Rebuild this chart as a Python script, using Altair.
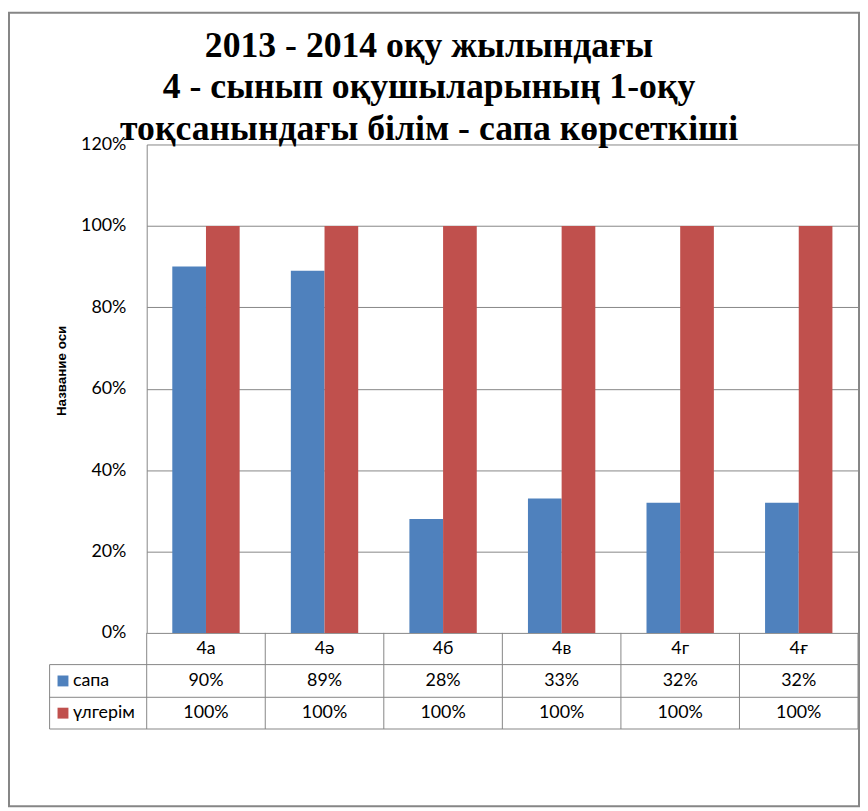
import altair as alt
import pandas as pd

# ---- data ----
classes = ["4а", "4ә", "4б", "4в", "4г", "4ғ"]
series_names = ["сапа", "үлгерім"]
sapa = [0.90, 0.89, 0.28, 0.33, 0.32, 0.32]
ulgerim = [1.00, 1.00, 1.00, 1.00, 1.00, 1.00]
y_ticks = [0, 0.2, 0.4, 0.6, 0.8, 1.0, 1.2]
title_lines = [
    "2013 - 2014 оқу жылындағы",
    "4 - сынып оқушыларының 1-оқу",
    "тоқсанындағы білім - сапа көрсеткіші",
]
axis_title = "Название оси"
colors = ["#4F81BD", "#C0504D"]

rows = []
for s, vals in zip(series_names, [sapa, ulgerim]):
    for c, v in zip(classes, vals):
        rows.append({"cls": c, "series": s, "value": v})
df = pd.DataFrame(rows)
cls_df = pd.DataFrame({"cls": classes})
one_df = pd.DataFrame({"k": [0]})

# ---- layout ----
W, H = 718, 493
PAD = {"left": 140, "top": 134, "right": 2, "bottom": 176}
GRAY = "#868686"
TXT_FONT = "Lato"
TXT_SIZE = 18
header_y = 509
row_y = [541.5, 574]
row_lines = [525, 558, 590]
table_left = -98
title_x = 285
title_y = [-88.7, -47, -4.5]

x_scale = alt.Scale(domain=classes, paddingInner=0, paddingOuter=0)
x_enc = alt.X("cls:N", sort=classes, scale=x_scale, axis=None)
color_scale = alt.Scale(domain=series_names, range=colors)

bars = alt.Chart(df).mark_bar().encode(
    x=x_enc,
    xOffset=alt.XOffset("series:N", sort=series_names,
                        scale=alt.Scale(domain=series_names, paddingInner=0, paddingOuter=0.76)),
    y=alt.Y("value:Q",
            scale=alt.Scale(domain=[0, 1.2], nice=False, zero=True),
            axis=alt.Axis(values=y_ticks, format=".0%", grid=True, gridColor=GRAY, gridWidth=1,
                          domain=True, domainColor=GRAY, ticks=False,
                          labelFont=TXT_FONT, labelFontSize=TXT_SIZE, labelColor="black",
                          labelPadding=21,
                          title=axis_title, titleFont="Liberation Sans", titleFontSize=13.5,
                          titleFontWeight="bold", titleColor="black", titleAngle=270,
                          titleX=-86, titleY=228, titleAlign="center", titleBaseline="middle")),
    color=alt.Color("series:N", scale=color_scale, legend=None),
)

header = alt.Chart(cls_df).mark_text(font=TXT_FONT, fontSize=TXT_SIZE, color="black",
                                     baseline="middle", align="center").encode(
    x=x_enc, y=alt.value(header_y), text="cls:N")

layers = [bars, header]

for i, s in enumerate(series_names):
    vals = alt.Chart(df).transform_filter(alt.datum.series == s).mark_text(
        font=TXT_FONT, fontSize=TXT_SIZE, color="black", baseline="middle", align="center"
    ).encode(x=x_enc, y=alt.value(row_y[i]), text=alt.Text("value:Q", format=".0%"))
    sq = alt.Chart(df).transform_filter(alt.datum.series == s).transform_aggregate(
        n="count()", groupby=["series"]
    ).mark_square(size=121, opacity=1, filled=True).encode(
        x=alt.value(table_left + 13.5), y=alt.value(row_y[i]),
        color=alt.Color("series:N", scale=color_scale, legend=None))
    lab = alt.Chart(df).transform_filter(alt.datum.series == s).transform_aggregate(
        n="count()", groupby=["series"]
    ).mark_text(font=TXT_FONT, fontSize=TXT_SIZE, color="black", baseline="middle",
                align="left").encode(
        x=alt.value(table_left + 23.5), y=alt.value(row_y[i]), text="series:N")
    layers += [vals, sq, lab]

# table grid lines
vlines = alt.Chart(cls_df).mark_rule(color=GRAY, strokeWidth=1).encode(
    x=alt.X("cls:N", sort=classes, scale=x_scale, axis=None, bandPosition=0),
    y=alt.value(H), y2=alt.value(row_lines[-1]))
right_line = alt.Chart(one_df).mark_rule(color=GRAY, strokeWidth=1).encode(
    x=alt.value(W), y=alt.value(H), y2=alt.value(row_lines[-1]))
left_line = alt.Chart(one_df).mark_rule(color=GRAY, strokeWidth=1).encode(
    x=alt.value(table_left), y=alt.value(row_lines[0]), y2=alt.value(row_lines[-1]))
layers += [vlines, right_line, left_line]
for ry in row_lines:
    layers.append(alt.Chart(one_df).mark_rule(color=GRAY, strokeWidth=1).encode(
        x=alt.value(table_left), x2=alt.value(W), y=alt.value(ry)))

# title lines
for line, ty in zip(title_lines, title_y):
    layers.append(alt.Chart(one_df).mark_text(
        font="Liberation Serif", fontSize=36, fontWeight="bold", color="black",
        align="center", baseline="alphabetic").encode(
        x=alt.value(title_x), y=alt.value(ty), text=alt.value(line)))

# outer border
border = alt.Chart(one_df).mark_rect(fillOpacity=0, stroke=GRAY, strokeWidth=2).encode(
    x=alt.value(-PAD["left"] + 1), x2=alt.value(W + PAD["right"] - 1),
    y=alt.value(-PAD["top"] + 1), y2=alt.value(H + PAD["bottom"] - 1))
layers.append(border)

chart = alt.layer(*layers).properties(
    width=W, height=H,
    autosize=alt.AutoSizeParams(type="none"),
    padding=PAD,
).configure_view(stroke=None)

chart.save("out.html", embed_options={"renderer": "svg", "actions": False})
